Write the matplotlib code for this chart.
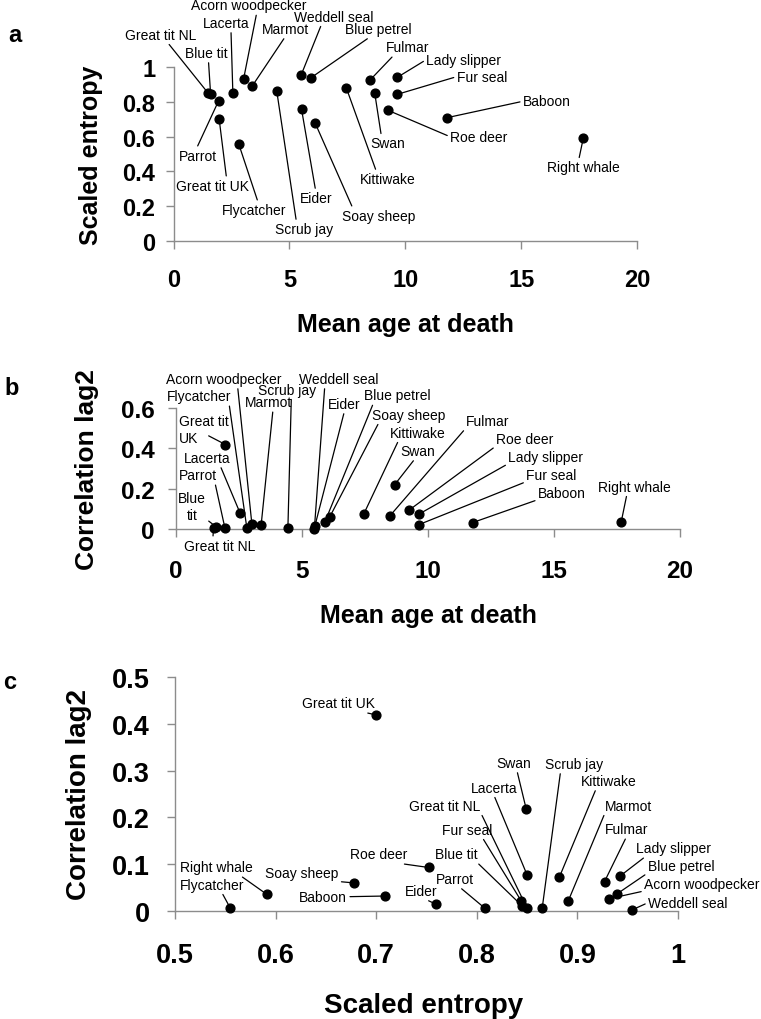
import matplotlib
matplotlib.use("Agg")
import matplotlib.pyplot as plt
import numpy as np
from matplotlib.ticker import FuncFormatter

plt.rcParams["font.family"] = ["Liberation Sans", "DejaVu Sans"]
plt.rcParams["font.weight"] = "bold"
plt.rcParams["axes.labelweight"] = "bold"

# ---- data ----
species = ["Great tit NL", "Blue tit", "Parrot", "Great tit UK", "Lacerta",
           "Flycatcher", "Acorn woodpecker", "Marmot", "Scrub jay", "Weddell seal",
           "Eider", "Blue petrel", "Soay sheep", "Kittiwake", "Fulmar", "Swan",
           "Roe deer", "Lady slipper", "Fur seal", "Baboon", "Right whale"]
mean_age = [1.50, 1.60, 1.95, 1.97, 2.56, 2.82, 3.02, 3.39, 4.45, 5.50,
            5.52, 5.92, 6.11, 7.45, 8.48, 8.68, 9.25, 9.65, 9.65, 11.78, 17.67]
scaled_entropy = [0.850, 0.845, 0.808, 0.700, 0.850, 0.555, 0.931, 0.891, 0.865, 0.954,
                  0.759, 0.939, 0.678, 0.882, 0.927, 0.849, 0.752, 0.942, 0.844, 0.709, 0.591]
corr_lag2 = [0.006, 0.011, 0.006, 0.419, 0.077, 0.006, 0.026, 0.022, 0.006, 0.002,
             0.015, 0.036, 0.060, 0.072, 0.063, 0.219, 0.093, 0.074, 0.022, 0.032, 0.036]

# ---- label layout: text centre in image pixels + where the leader leaves the text ----
W, H = 761, 1020
labels_a = {
    "Great tit NL": (160.5, 35.7, (0.59, 0)), "Blue tit": (206.7, 54, (0.54, 0)),
    "Lacerta": (226.3, 24, (0.6, 0)), "Acorn woodpecker": (248.7, 6.5, (0.57, 0)),
    "Marmot": (285.7, 30, (0.5, 0)), "Weddell seal": (333.7, 17.7, (0.35, 0)),
    "Blue petrel": (378, 30, (0.4, 0)), "Fulmar": (407.7, 48.3, (0.2, 0)),
    "Lady slipper": (463.7, 60.7, (0, 0.5)), "Fur seal": (481.7, 77.7, (0, 0.5)),
    "Baboon": (546.7, 102.3, (0, 0.5)), "Roe deer": (478.7, 137.7, (0, 0.5)),
    "Right whale": (583, 168.3, (0.44, 1)), "Swan": (387.3, 144.3, (0.33, 1)),
    "Kittiwake": (387.7, 180, (0.3, 1)), "Soay sheep": (378.7, 216.7, (0.15, 1)),
    "Eider": (315.7, 199, (0.5, 1)), "Scrub jay": (304, 230, (0.37, 1)),
    "Flycatcher": (253.7, 210.7, (0.57, 1)), "Great tit UK": (212, 186.7, (0.7, 1)),
    "Parrot": (198.3, 156.7, (0.45, 1)),
}
labels_b = {
    "Acorn woodpecker": (223.7, 380, (0.62, 0)), "Flycatcher": (198.7, 397.3, (0.97, 0)),
    "Great tit UK": (203.7, 430.7, (0.6, 0.3)), "Lacerta": (207.3, 459, (0.77, 0)),
    "Parrot": (197.7, 476.3, (0.95, 0)), "Blue tit": (192, 507.3, (0.7, 0.3)),
    "Great tit NL": (220, 546.7, (0.4, 1)), "Scrub jay": (286.7, 390.7, (0.58, 0)),
    "Marmot": (268.3, 403.3, (0.6, 0)), "Weddell seal": (338.3, 380, (0.33, 0)),
    "Eider": (344.5, 405, (0.5, 0)), "Blue petrel": (397, 396.5, (0.15, 0)),
    "Soay sheep": (408.7, 415.7, (0.1, 0)), "Kittiwake": (417.3, 433.7, (0.17, 0)),
    "Swan": (417.3, 452, (0.45, 0)), "Fulmar": (487.7, 422, (0, 0)),
    "Roe deer": (524.7, 440, (0, 0)), "Lady slipper": (545.7, 457.7, (0, 0)),
    "Fur seal": (551.3, 475.7, (0, 0)), "Baboon": (561.7, 493.7, (0, 0)),
    "Right whale": (634.3, 487.7, (0.4, 0)),
}
labels_c = {
    "Great tit UK": (338.3, 704.3, (0.73, 0)), "Right whale": (216.7, 868.3, (0.8, 0)),
    "Flycatcher": (211.7, 885.7, (0.65, 0)), "Soay sheep": (302, 873.7, (0.72, 0)),
    "Baboon": (323.3, 897.7, (1, 0.5)), "Roe deer": (379, 855.3, (0.6, 0)),
    "Eider": (421, 892, (0.55, 0)), "Parrot": (454.5, 880, (0.6, 0)),
    "Blue tit": (456.7, 855.3, (0.95, 0)), "Fur seal": (466.7, 830.7, (0.8, 0)),
    "Great tit NL": (445, 806.7, (1, 0)), "Lacerta": (493.7, 788.7, (0.5, 0)),
    "Swan": (513.3, 764, (0.6, 0)), "Scrub jay": (574, 765, (0.27, 0)),
    "Kittiwake": (608.7, 782, (0.28, 0)), "Marmot": (628.7, 806.7, (0, 0)),
    "Fulmar": (626.7, 830.3, (0.5, 0)), "Lady slipper": (673.3, 849.3, (0.15, 0)),
    "Blue petrel": (681, 867, (0, 0)), "Acorn woodpecker": (701.7, 885, (0, 0)),
    "Weddell seal": (687.7, 903.7, (0, 0.5)),
}
text_b = {"Great tit UK": "Great tit\nUK", "Blue tit": "Blue\ntit"}

GREY = "#8c8c8c"


def rect(x0, x1, y_top, y_bot):
    return [x0 / W, 1 - y_bot / H, (x1 - x0) / W, (y_bot - y_top) / H]


def fig_xy(px, py):
    return px / W, 1 - py / H


def style(ax, tick_size, xpad, ypad):
    for s in ("top", "right"):
        ax.spines[s].set_visible(False)
    for s in ("left", "bottom"):
        ax.spines[s].set_color(GREY)
        ax.spines[s].set_linewidth(1.0)
    ax.tick_params(direction="out", length=6, width=1.0, color=GREY,
                   labelsize=tick_size, labelcolor="black")
    ax.tick_params(axis="x", pad=xpad)
    ax.tick_params(axis="y", pad=ypad)
    fmt = FuncFormatter(lambda v, _: f"{v:g}")
    ax.xaxis.set_major_formatter(fmt)
    ax.yaxis.set_major_formatter(fmt)
    ax.patch.set_alpha(0)


def label_points(ax, xs, ys, layout, texts=None):
    texts = texts or {}
    for name, x, y in zip(species, xs, ys):
        lx, ly, rp = layout[name]
        txt = texts.get(name, name)
        align = "left" if txt == "Great tit\nUK" else "center"
        ax.annotate(txt, xy=(x, y), xytext=(lx, H - ly), textcoords="figure pixels",
                    ha="center", va="center", fontsize=10, fontweight="normal",
                    linespacing=1.25, multialignment=align, annotation_clip=False,
                    arrowprops=dict(arrowstyle="-", color="black", lw=0.9,
                                    shrinkA=0, shrinkB=0, relpos=rp))
    ax.scatter(xs, ys, s=40, color="black", zorder=3, clip_on=False)


fig = plt.figure(figsize=(W / 100, H / 100), dpi=100)

# ---- panel a ----
ax_a = fig.add_axes(rect(173.5, 637.3, 68.3, 241.7))
ax_a.set_xlim(0, 20)
ax_a.set_ylim(0, 1)
ax_a.set_xticks(np.arange(0, 21, 5))
ax_a.set_yticks(np.round(np.arange(0, 1.01, 0.2), 1))
style(ax_a, 17, 14, 7)
label_points(ax_a, mean_age, scaled_entropy, labels_a)
ax_a.set_xlabel("Mean age at death", fontsize=18, va="center")
ax_a.xaxis.set_label_coords(*fig_xy(405, 325), transform=fig.transFigure)
ax_a.set_ylabel("Scaled entropy", fontsize=18, va="center")
ax_a.yaxis.set_label_coords(*fig_xy(91, 155), transform=fig.transFigure)

# ---- panel b ----
ax_b = fig.add_axes(rect(175.7, 680, 409, 530))
ax_b.set_xlim(0, 20)
ax_b.set_ylim(0, 0.6)
ax_b.set_xticks(np.arange(0, 21, 5))
ax_b.set_yticks(np.round(np.arange(0, 0.61, 0.2), 1))
style(ax_b, 17.5, 15.5, 9)
label_points(ax_b, mean_age, corr_lag2, labels_b, text_b)
ax_b.set_xlabel("Mean age at death", fontsize=18, va="center")
ax_b.xaxis.set_label_coords(*fig_xy(428, 616), transform=fig.transFigure)
ax_b.set_ylabel("Correlation lag2", fontsize=19, va="center")
ax_b.yaxis.set_label_coords(*fig_xy(87, 470), transform=fig.transFigure)

# ---- panel c ----
ax_c = fig.add_axes(rect(175, 678, 678, 912))
ax_c.set_xlim(0.5, 1)
ax_c.set_ylim(0, 0.5)
ax_c.set_xticks(np.round(np.arange(0.5, 1.01, 0.1), 1))
ax_c.set_yticks(np.round(np.arange(0, 0.51, 0.1), 1))
style(ax_c, 19.5, 16.5, 12)
label_points(ax_c, scaled_entropy, corr_lag2, labels_c)
ax_c.set_xlabel("Scaled entropy", fontsize=20, va="center")
ax_c.xaxis.set_label_coords(*fig_xy(424, 1006), transform=fig.transFigure)
ax_c.set_ylabel("Correlation lag2", fontsize=20, va="center")
ax_c.yaxis.set_label_coords(*fig_xy(79, 795), transform=fig.transFigure)

# panel letters
for letter, (px, py) in zip("abc", [(15, 36), (12, 389), (10, 683)]):
    fig.text(*fig_xy(px, py), letter, fontsize=17, ha="center", va="center")

fig.savefig("out.png", dpi=100)
